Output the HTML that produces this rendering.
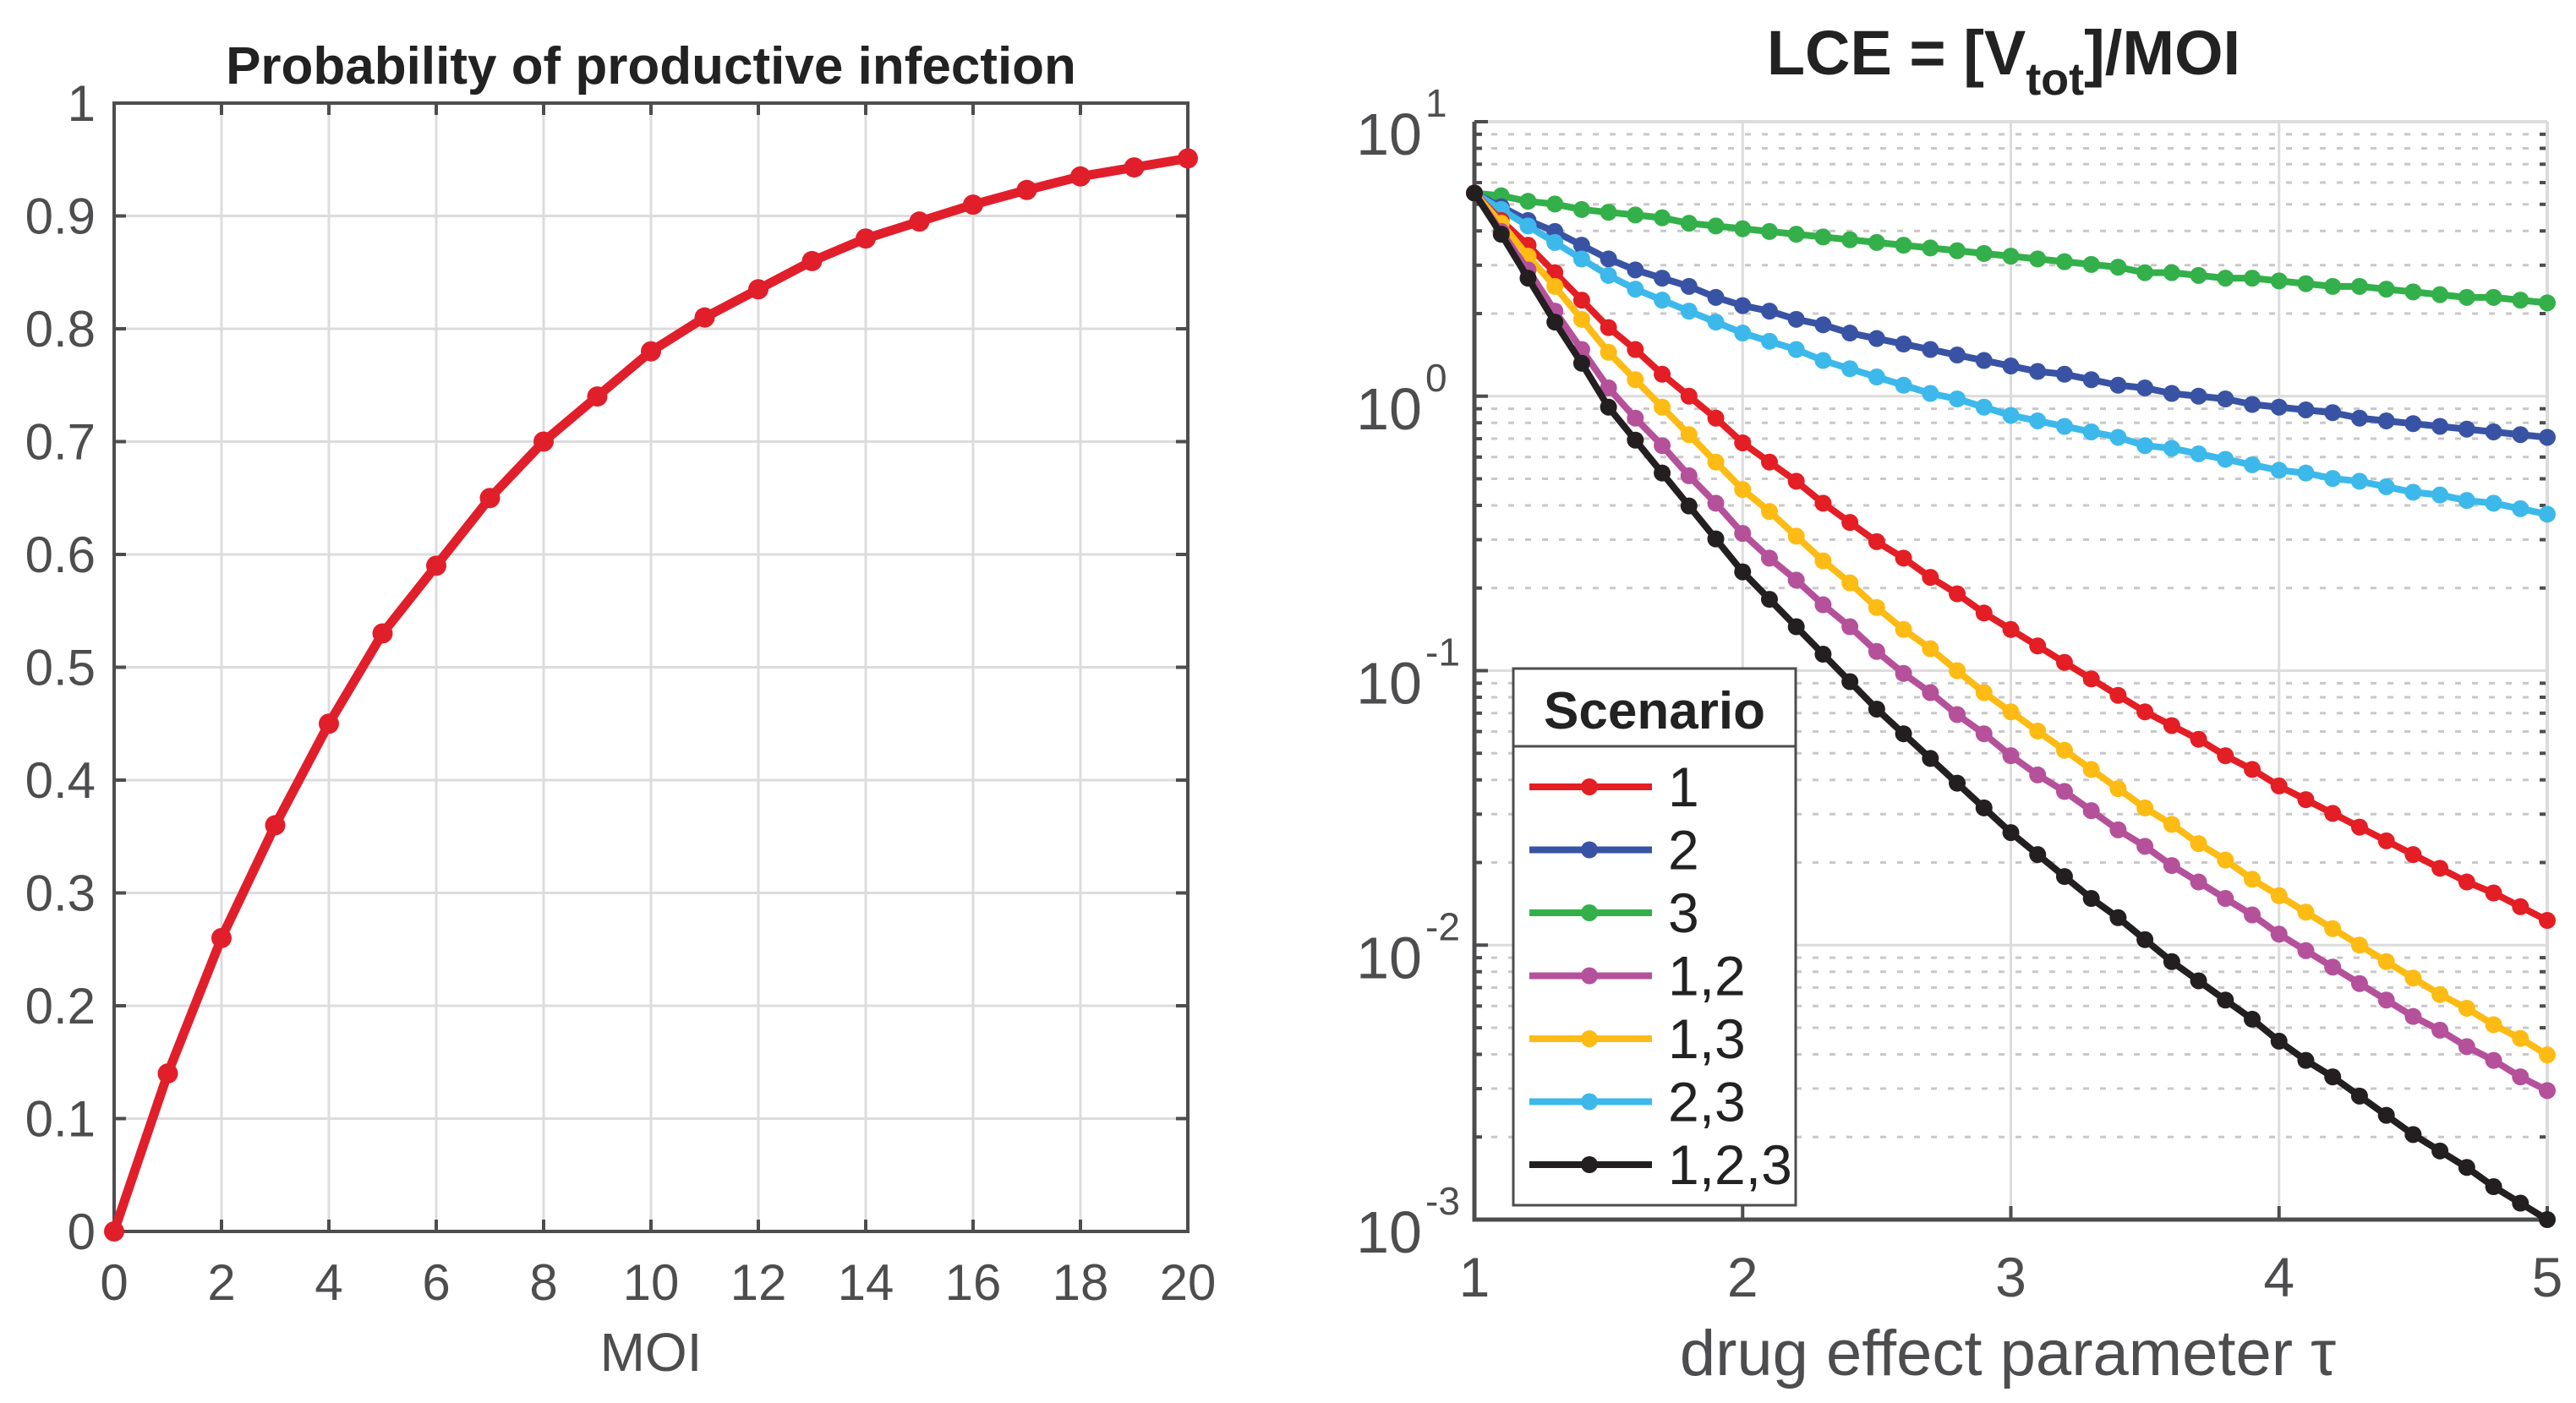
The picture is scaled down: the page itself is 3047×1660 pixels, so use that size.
<!DOCTYPE html>
<html><head><meta charset="utf-8"><style>
html,body{margin:0;padding:0;background:#fff;}
svg{display:block;font-family:"Liberation Sans",Arial,sans-serif;}
</style></head><body>
<svg id="fig" width="3047" height="1660" viewBox="0 0 3047 1660"></svg>
<script>
// ---- Left chart data ----
const moi = [0,1,2,3,4,5,6,7,8,9,10,11,12,13,14,15,16,17,18,19,20];
const probInfection = [0,0.14,0.26,0.36,0.45,0.53,0.59,0.65,0.70,0.74,0.78,0.81,0.835,0.86,0.88,0.895,0.91,0.923,0.935,0.943,0.951];
const leftXTicks = [0,2,4,6,8,10,12,14,16,18,20];
const leftYTicks = [0,0.1,0.2,0.3,0.4,0.5,0.6,0.7,0.8,0.9,1];
const leftYTickLabels = ["0","0.1","0.2","0.3","0.4","0.5","0.6","0.7","0.8","0.9","1"];

// ---- Right chart data (tau 1..5 step 0.1), values are log10(LCE) ----
const tau = [1.0,1.1,1.2,1.3,1.4,1.5,1.6,1.7,1.8,1.9,2.0,2.1,2.2,2.3,2.4,2.5,2.6,2.7,2.8,2.9,3.0,3.1,3.2,3.3,3.4,3.5,3.6,3.7,3.8,3.9,4.0,4.1,4.2,4.3,4.4,4.5,4.6,4.7,4.8,4.9,5.0];
const scenarioNames = ["1","2","3","1,2","1,3","2,3","1,2,3"];
const log10LCE_s1 = [0.74,0.64,0.55,0.45,0.35,0.25,0.17,0.08,0.00,-0.08,-0.17,-0.24,-0.31,-0.39,-0.46,-0.53,-0.59,-0.66,-0.72,-0.79,-0.85,-0.91,-0.97,-1.03,-1.09,-1.15,-1.20,-1.25,-1.31,-1.36,-1.42,-1.47,-1.52,-1.57,-1.62,-1.67,-1.72,-1.77,-1.81,-1.86,-1.91];
const log10LCE_s2 = [0.74,0.69,0.64,0.60,0.55,0.50,0.46,0.43,0.40,0.36,0.33,0.31,0.28,0.26,0.23,0.21,0.19,0.17,0.15,0.13,0.11,0.09,0.08,0.06,0.04,0.03,0.01,0.00,-0.01,-0.03,-0.04,-0.05,-0.06,-0.08,-0.09,-0.10,-0.11,-0.12,-0.13,-0.14,-0.15];
const log10LCE_s3 = [0.74,0.73,0.71,0.70,0.68,0.67,0.66,0.65,0.63,0.62,0.61,0.60,0.59,0.58,0.57,0.56,0.55,0.54,0.53,0.52,0.51,0.50,0.49,0.48,0.47,0.45,0.45,0.44,0.43,0.43,0.42,0.41,0.40,0.40,0.39,0.38,0.37,0.36,0.36,0.35,0.34];
const log10LCE_s12 = [0.74,0.60,0.46,0.31,0.17,0.03,-0.08,-0.18,-0.29,-0.39,-0.50,-0.59,-0.67,-0.76,-0.84,-0.93,-1.01,-1.08,-1.16,-1.23,-1.31,-1.38,-1.44,-1.51,-1.58,-1.64,-1.71,-1.77,-1.83,-1.89,-1.96,-2.02,-2.08,-2.14,-2.20,-2.26,-2.31,-2.37,-2.42,-2.48,-2.53];
const log10LCE_s13 = [0.74,0.63,0.51,0.40,0.28,0.16,0.06,-0.04,-0.14,-0.24,-0.34,-0.42,-0.51,-0.60,-0.68,-0.77,-0.85,-0.92,-1.00,-1.08,-1.15,-1.22,-1.29,-1.36,-1.43,-1.50,-1.56,-1.63,-1.69,-1.76,-1.82,-1.88,-1.94,-2.00,-2.06,-2.12,-2.18,-2.23,-2.29,-2.34,-2.40];
const log10LCE_s23 = [0.74,0.68,0.62,0.56,0.50,0.44,0.39,0.35,0.31,0.27,0.23,0.20,0.17,0.13,0.10,0.07,0.04,0.01,-0.01,-0.04,-0.07,-0.09,-0.11,-0.13,-0.15,-0.18,-0.19,-0.21,-0.23,-0.25,-0.27,-0.28,-0.30,-0.31,-0.33,-0.35,-0.36,-0.38,-0.39,-0.41,-0.43];
const log10LCE_s123 = [0.74,0.59,0.43,0.27,0.12,-0.04,-0.16,-0.28,-0.40,-0.52,-0.64,-0.74,-0.84,-0.94,-1.04,-1.14,-1.23,-1.32,-1.41,-1.50,-1.59,-1.67,-1.75,-1.83,-1.90,-1.98,-2.06,-2.13,-2.20,-2.27,-2.35,-2.42,-2.48,-2.55,-2.62,-2.69,-2.75,-2.81,-2.88,-2.94,-3.00];
const rightXTicks = [1,2,3,4,5];
const rightDecades = [-3,-2,-1,0,1];

const NS = "http://www.w3.org/2000/svg";
const svg = document.getElementById('fig');
function mk(tag, attrs, parent){ const e=document.createElementNS(NS,tag); for(const k in attrs) e.setAttribute(k,attrs[k]); (parent||svg).appendChild(e); return e; }
const AX = "#4d4d4f", GRID = "#dcdcdc";

// ===== LEFT PLOT =====
const L1=135,R1=1405,T1=122,B1=1457;
const lx = v => L1 + (v-0)/(20-0)*(R1-L1);
const ly = v => B1 - (v-0)/(1-0)*(B1-T1);
const gL = mk('g',{});  
leftXTicks.forEach(t=>{ if(t>0&&t<20){ const l=mk('line',{x1:lx(t),x2:lx(t),y1:T1,y2:B1,stroke:GRID,'stroke-width':3},gL);   }});
leftYTicks.forEach(t=>{ if(t>0&&t<1){ const l=mk('line',{x1:L1,x2:R1,y1:ly(t),y2:ly(t),stroke:GRID,'stroke-width':3},gL);   }});
const fr1=mk('rect',{x:L1,y:T1,width:R1-L1,height:B1-T1,fill:'none',stroke:AX,'stroke-width':4},gL);
 
leftXTicks.forEach(t=>{
  mk('line',{x1:lx(t),x2:lx(t),y1:B1,y2:B1-14,stroke:AX,'stroke-width':4},gL);
  mk('line',{x1:lx(t),x2:lx(t),y1:T1,y2:T1+14,stroke:AX,'stroke-width':4},gL);
  const tx=mk('text',{x:lx(t),y:1538,'font-size':60,fill:AX,'text-anchor':'middle'},gL); tx.textContent=t;
   
});
leftYTicks.forEach((t,i)=>{
  mk('line',{x1:L1,x2:L1+14,y1:ly(t),y2:ly(t),stroke:AX,'stroke-width':4},gL);
  mk('line',{x1:R1,x2:R1-14,y1:ly(t),y2:ly(t),stroke:AX,'stroke-width':4},gL);
  const tx=mk('text',{x:113,y:ly(t)+21,'font-size':60,fill:AX,'text-anchor':'end'},gL); tx.textContent=leftYTickLabels[i];
   
});
const pl=mk('polyline',{points:moi.map((m,i)=>lx(m)+','+ly(probInfection[i])).join(' '),fill:'none',stroke:'#e01f2b','stroke-width':11,'stroke-linejoin':'round'},gL);
 
moi.forEach((m,i)=>{ const c=mk('circle',{cx:lx(m),cy:ly(probInfection[i]),r:12,fill:'#e01f2b'},gL);   });
const t1=mk('text',{x:770,y:99,'font-size':62,'font-weight':'bold',fill:'#222','text-anchor':'middle'},gL); t1.textContent='Probability of productive infection';
 
const xl1=mk('text',{x:770,y:1622,'font-size':64,fill:AX,'text-anchor':'middle'},gL); xl1.textContent='MOI';
 

// ===== RIGHT PLOT =====
const L2=1744,R2=3013,T2=144,B2=1443;
const rx = v => L2 + (v-1)/(5-1)*(R2-L2);
const ry = lg => B2 - (lg-(-3))/(1-(-3))*(B2-T2);
const gR = mk('g',{});  
rightDecades.forEach(d=>{
  if(d<1){ for(let k=2;k<=9;k++){ const y=ry(d+Math.log10(k));
    const l=mk('line',{x1:L2,x2:R2,y1:y,y2:y,stroke:'#c8c8c8','stroke-width':3,'stroke-dasharray':'7 13'},gR);  
    mk('line',{x1:L2,x2:L2+9,y1:y,y2:y,stroke:AX,'stroke-width':4},gR);
    mk('line',{x1:R2,x2:R2-9,y1:y,y2:y,stroke:AX,'stroke-width':4},gR);
  }}
  if(d>-3&&d<1){ const l=mk('line',{x1:L2,x2:R2,y1:ry(d),y2:ry(d),stroke:GRID,'stroke-width':3},gR);   }
});
rightXTicks.forEach(t=>{ if(t>1&&t<5){ const l=mk('line',{x1:rx(t),x2:rx(t),y1:T2,y2:B2,stroke:GRID,'stroke-width':3},gR);   }});
mk('line',{x1:L2,x2:R2,y1:T2,y2:T2,stroke:GRID,'stroke-width':4},gR);
mk('line',{x1:R2,x2:R2,y1:T2,y2:B2,stroke:GRID,'stroke-width':4},gR);
const ax2=mk('path',{d:`M${L2},${T2} V${B2} H${R2}`,fill:'none',stroke:AX,'stroke-width':5},gR);
 
rightDecades.forEach(d=>{
  mk('line',{x1:L2,x2:L2+16,y1:ry(d),y2:ry(d),stroke:AX,'stroke-width':4},gR);
  const tx=mk('text',{x:1682,y:ry(d)+39,'font-size':70,fill:AX,'text-anchor':'end'},gR); tx.textContent='10';
   
  const sp=mk('text',{x:1686,y:ry(d)-6,'font-size':46,fill:AX,'text-anchor':'start'},gR); sp.textContent=(d<0?'-':'')+Math.abs(d);
   
});
rightXTicks.forEach(t=>{
  mk('line',{x1:rx(t),x2:rx(t),y1:B2,y2:B2-16,stroke:AX,'stroke-width':4},gR);
  const tx=mk('text',{x:rx(t),y:1534,'font-size':66,fill:AX,'text-anchor':'middle'},gR); tx.textContent=t;
   
});
const seriesData=[log10LCE_s1,log10LCE_s2,log10LCE_s3,log10LCE_s12,log10LCE_s13,log10LCE_s23,log10LCE_s123];
const colors=['#e31e24','#3953a4','#33b04a','#b5519b','#fdbb13','#3cb9ea','#231f20'];
const drawOrder=[2,1,5,0,4,3,6];
drawOrder.forEach(si=>{
  const g=mk('g',{},gR);  
  mk('polyline',{points:tau.map((t,i)=>rx(t)+','+ry(seriesData[si][i])).join(' '),fill:'none',stroke:colors[si],'stroke-width':8,'stroke-linejoin':'round'},g);
  tau.forEach((t,i)=>{ const c=mk('circle',{cx:rx(t),cy:ry(seriesData[si][i]),r:10,fill:colors[si]},g);   });
});
const t2=mk('text',{x:2370,y:88,'font-size':74,'font-weight':'bold',fill:'#222','text-anchor':'middle'},gR);
 
t2.innerHTML='LCE = [V<tspan dy="24" font-size="54">tot</tspan><tspan dy="-24">]/MOI</tspan>';
const xl2=mk('text',{x:2375,y:1627,'font-size':76,fill:AX,'text-anchor':'middle'},gR); xl2.textContent='drug effect parameter τ';
 
const lg=mk('g',{},gR);  
mk('rect',{x:1790,y:791,width:334,height:635,fill:'#fff',stroke:AX,'stroke-width':3},lg);
mk('line',{x1:1790,x2:2124,y1:883,y2:883,stroke:AX,'stroke-width':3},lg);
const lt=mk('text',{x:1957,y:862,'font-size':62,'font-weight':'bold',fill:'#222','text-anchor':'middle'},lg); lt.textContent='Scenario';
 
scenarioNames.forEach((n,i)=>{
  const y=931+i*74.5;
  const e=mk('g',{},lg);  
  mk('line',{x1:1809,x2:1954,y1:y,y2:y,stroke:colors[i],'stroke-width':8},e);
  mk('circle',{cx:1880,cy:y,r:10,fill:colors[i]},e);
  const tx=mk('text',{x:1973,y:y+23,'font-size':66,fill:'#222'},e); tx.textContent=n;
});
</script>
</body></html>
